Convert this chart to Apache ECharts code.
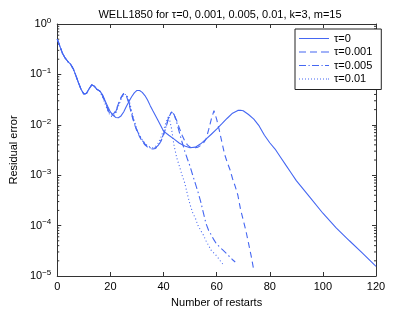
<!DOCTYPE html>
<html>
<head>
<meta charset="utf-8">
<script src="https://cdn.jsdelivr.net/npm/echarts@6/dist/echarts.min.js"></script>
<style>
html,body{margin:0;padding:0;background:#fff;}
#c{width:415px;height:313px;}
</style>
</head>
<body>
<div id="c"></div>
<script>
// ---- data ----
const seriesNames = ['τ=0', 'τ=0.001', 'τ=0.005', 'τ=0.01'];
const xTicks = [0, 20, 40, 60, 80, 100, 120];
const yTicks = [1e-5, 1e-4, 1e-3, 1e-2, 1e-1, 1];

const tau0X = [0,1,2,3,4,5,6,7,8,9,10,11,12,13,14,15,16,17,18,19,20,21,22,23,24,25,26,27,28,29,30,31,32,33,34,35,36,38,40,42,44,46,48,50,52,54,56,58,60,62,64,66,68,69,70,72,74,76,78,80,82,84,86,88,90,95,100,105,110,115,120];
const tau0Y = [0.50,0.36,0.26,0.21,0.18,0.16,0.13,0.095,0.068,0.050,0.041,0.042,0.052,0.062,0.058,0.050,0.047,0.040,0.030,0.023,0.018,0.0155,0.014,0.0138,0.015,0.018,0.023,0.029,0.036,0.043,0.048,0.048,0.044,0.038,0.031,0.024,0.019,0.012,0.0075,0.0062,0.0052,0.0043,0.0038,0.0035,0.0036,0.0042,0.0052,0.0065,0.0082,0.0105,0.0135,0.017,0.0193,0.0195,0.019,0.016,0.013,0.0095,0.0062,0.0044,0.0033,0.0023,0.0016,0.00112,0.00078,0.00037,0.000176,0.00009,0.00005,0.000028,0.0000155];

const tau001X = [0,1,2,3,4,5,6,7,8,9,10,11,12,13,14,15,16,17,18,19,20,21,22,23,24,25,26,27,28,29,30,31,32,33,34,35,36,37,38,39,40,41,42,43,44,45,46,47,48,49,50,51,52,53,54,55,56,57,58,59,60,61,62,63,64,65,66,67,68,69,70,71,72,73,74];
const tau001Y = [0.50,0.36,0.26,0.21,0.18,0.16,0.13,0.095,0.068,0.050,0.041,0.042,0.052,0.062,0.058,0.050,0.047,0.039,0.029,0.021,0.017,0.016,0.019,0.026,0.035,0.042,0.038,0.026,0.016,0.0105,0.0075,0.0058,0.0047,0.0040,0.0036,0.0034,0.0033,0.0034,0.0038,0.0047,0.0062,0.0092,0.014,0.018,0.016,0.012,0.0085,0.0062,0.0048,0.0040,0.0036,0.0035,0.0035,0.0036,0.0039,0.0043,0.0052,0.0080,0.013,0.019,0.013,0.0078,0.0045,0.0026,0.0018,0.0013,0.00085,0.0006,0.0004,0.00021,0.00013,0.00008,0.000045,0.000025,0.000013];

const tau005X = [0,1,2,3,4,5,6,7,8,9,10,11,12,13,14,15,16,17,18,19,20,21,22,23,24,25,26,27,28,29,30,31,32,33,34,35,36,37,38,39,40,41,42,43,44,45,46,47,48,49,50,51,52,53,54,55,56,57,58,59,60,62,64,66,67];
const tau005Y = [0.50,0.36,0.26,0.21,0.18,0.16,0.13,0.095,0.068,0.050,0.041,0.042,0.052,0.062,0.058,0.050,0.047,0.038,0.028,0.020,0.016,0.0155,0.018,0.025,0.034,0.041,0.039,0.028,0.017,0.011,0.0078,0.006,0.0049,0.0042,0.0037,0.0035,0.0034,0.0035,0.0039,0.0048,0.0065,0.0095,0.0145,0.018,0.016,0.011,0.007,0.0045,0.003,0.0021,0.0015,0.001,0.00068,0.00046,0.0003,0.00018,0.00011,0.00008,0.000065,0.000052,0.000043,0.000034,0.000027,0.000021,0.000019];

const tau01X = [0,1,2,3,4,5,6,7,8,9,10,11,12,13,14,15,16,17,18,19,20,21,22,23,24,25,26,27,28,29,30,31,32,33,34,35,36,37,38,39,40,41,42,43,44,45,46,47,48,49,50,51,52,53,54,55,56,58,60,62,63];
const tau01Y = [0.50,0.36,0.26,0.21,0.18,0.16,0.13,0.095,0.068,0.050,0.041,0.042,0.052,0.062,0.058,0.050,0.046,0.036,0.026,0.019,0.015,0.0145,0.017,0.023,0.032,0.040,0.040,0.031,0.019,0.012,0.0082,0.0062,0.005,0.0043,0.0038,0.0036,0.0035,0.0037,0.0043,0.0056,0.0078,0.0115,0.015,0.0085,0.0038,0.0022,0.0015,0.001,0.0007,0.00042,0.00026,0.00018,0.00014,0.0001,0.00008,0.000065,0.00005,0.000032,0.000025,0.000018,0.000016];

const minorTickValues = [];
for (let e = -5; e < 0; e++) for (let m = 2; m <= 9; m++) minorTickValues.push(m * Math.pow(10, e));

// ---- chart ----
const zip = (xs, ys) => xs.map((x, i) => [x, ys[i]]);
const blue = '#4567f2';
const axisColor = '#333';
const font = 'Liberation Sans, Arial, Helvetica, sans-serif';

// legend glyphs: line samples (30 wide, 1 tall) mimicking each dash pattern
const legendIcons = [
  'path://M0,0h30v1h-30z',
  'path://M0,0h7v1h-7zM11,0h7v1h-7zM22,0h8v1h-8z',
  'path://M0,0h7v1h-7zM9.5,0h1.2v1h-1.2zM13,0h7v1h-7zM22.5,0h1.2v1h-1.2zM26,0h4v1h-4z',
  'path://M0,0h1v1h-1zM3,0h1v1h-1zM6,0h1v1h-1zM9,0h1v1h-1zM12,0h1v1h-1zM15,0h1v1h-1zM18,0h1v1h-1zM21,0h1v1h-1zM24,0h1v1h-1zM27,0h1v1h-1zM29,0h1v1h-1z'
];

const chart = echarts.init(document.getElementById('c'), null, {renderer: 'canvas'});

function supLabel(v) {
  const e = Math.round(Math.log10(v));
  return '10{sup|' + (e < 0 ? '\u2212' + (-e) : e) + '}';
}

const lineSeries = (name, xs, ys, type) => ({
  name: name,
  type: 'line',
  data: zip(xs, ys),
  showSymbol: false,
  symbol: 'none',
  smooth: false,
  lineStyle: {color: blue, width: 1.1, type: type},
  itemStyle: {color: blue},
  silent: true,
  z: 3
});

chart.setOption({
  animation: false,
  backgroundColor: '#fff',
  textStyle: {fontFamily: font},
  title: {
    text: 'WELL1850 for τ=0, 0.001, 0.005, 0.01, k=3, m=15',
    left: 215, top: 4, textAlign: 'center',
    textStyle: {fontSize: 11, fontWeight: 'normal', color: '#000', fontFamily: font}
  },
  grid: {left: 54, right: 39, top: 24, bottom: 36, show: false},
  legend: {
    orient: 'vertical',
    left: 295, top: 29,
    width: 78,
    backgroundColor: '#fff',
    borderColor: '#222', borderWidth: 1,
    padding: [4, 9, 5, 4],
    itemWidth: 30, itemHeight: 10, itemGap: 2.5,
    textStyle: {fontSize: 11, color: '#000', fontFamily: font},
    data: seriesNames.map((n, i) => ({name: n, icon: legendIcons[i]}))
  },
  xAxis: [{
    type: 'value', min: xTicks[0], max: xTicks[xTicks.length - 1], interval: 20,
    name: 'Number of restarts', nameLocation: 'middle', nameGap: 21,
    nameTextStyle: {fontSize: 11, color: '#000', fontFamily: font},
    axisLine: {show: true, lineStyle: {color: axisColor, width: 1}},
    axisTick: {show: true, inside: true, length: 4, lineStyle: {color: axisColor}},
    axisLabel: {fontSize: 11, color: '#000', margin: 5, fontFamily: font},
    splitLine: {show: false}
  }, {
    type: 'value', position: 'top', min: 0, max: 120, interval: 20,
    axisLine: {show: true, onZero: false, lineStyle: {color: axisColor, width: 1}},
    axisTick: {show: true, inside: true, length: 4, lineStyle: {color: axisColor}},
    axisLabel: {show: false}, splitLine: {show: false}
  }],
  yAxis: [{
    type: 'log', logBase: 10, min: yTicks[0], max: yTicks[yTicks.length - 1],
    name: 'Residual error', nameLocation: 'middle', nameGap: 38, nameRotate: 90,
    nameTextStyle: {fontSize: 11, color: '#000', fontFamily: font},
    axisLine: {show: true, lineStyle: {color: axisColor, width: 1}},
    axisTick: {show: true, inside: true, length: 4, lineStyle: {color: axisColor}},
    axisLabel: {
      fontSize: 11, color: '#000', margin: 6, fontFamily: font,
      formatter: supLabel,
      rich: {sup: {fontSize: 8, verticalAlign: 'bottom', padding: [0, 0, 7, 0], fontFamily: font, color: '#000'}}
    },
    splitLine: {show: false}
  }, {
    type: 'log', logBase: 10, min: 1e-5, max: 1, position: 'right',
    axisLine: {show: true, onZero: false, lineStyle: {color: axisColor, width: 1}},
    axisTick: {show: true, inside: true, length: 4, lineStyle: {color: axisColor}},
    axisLabel: {show: false}, splitLine: {show: false}
  }],
  series: [
    lineSeries(seriesNames[0], tau0X, tau0Y, 'solid'),
    lineSeries(seriesNames[1], tau001X, tau001Y, [6, 4]),
    lineSeries(seriesNames[2], tau005X, tau005Y, [7, 3, 1.5, 3]),
    lineSeries(seriesNames[3], tau01X, tau01Y, [1, 2.5]),
    {
      type: 'custom',
      silent: true,
      data: minorTickValues.map(v => [0, v]),
      encode: {x: 0, y: 1},
      renderItem: function (params, api) {
        const v = api.value(1);
        const l = api.coord([0, v]);
        const r = api.coord([120, v]);
        return {
          type: 'group',
          children: [
            {type: 'line', shape: {x1: l[0], y1: l[1], x2: l[0] + 2, y2: l[1]}, style: {stroke: axisColor, lineWidth: 1}},
            {type: 'line', shape: {x1: r[0] - 2, y1: r[1], x2: r[0], y2: r[1]}, style: {stroke: axisColor, lineWidth: 1}}
          ]
        };
      },
      z: 2
    }
  ]
});
</script>
</body>
</html>
